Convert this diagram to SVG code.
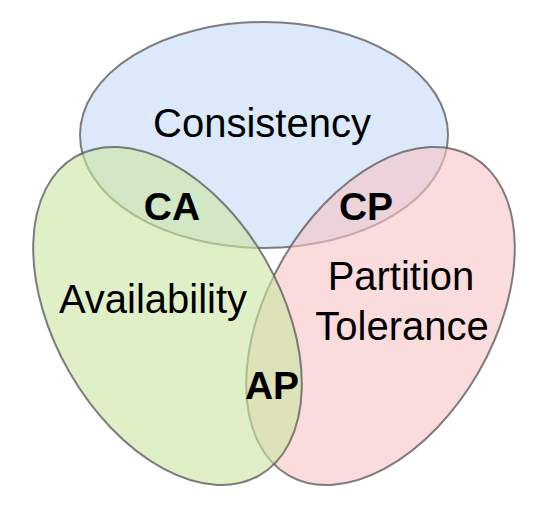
<svg xmlns="http://www.w3.org/2000/svg" width="548" height="506" viewBox="0 0 548 506">
  <style>
    .set { stroke: #5f5f5f; stroke-opacity: 0.8; stroke-width: 2; fill-opacity: 0.6; }
    .lbl { font-family: "Liberation Sans", Arial, Helvetica, sans-serif; fill: #000; text-anchor: middle; }
    .big { font-size: 40px; }
    .bold { font-size: 39px; font-weight: bold; }
  </style>
  <rect x="0" y="0" width="548" height="506" fill="#ffffff"/>
  <g id="consistency">
    <ellipse class="set" cx="264" cy="135" rx="184" ry="113" fill="#c3daf7"/>
    <text class="lbl big" x="262" y="137" font-size="41">Consistency</text>
  </g>
  <g id="partition-tolerance">
    <ellipse class="set" cx="0" cy="0" rx="184" ry="113" fill="#f7c5c5" transform="translate(380.5 316) rotate(-60)"/>
    <text class="lbl big" x="401" y="290">Partition</text>
    <text class="lbl big" x="402" y="340">Tolerance</text>
  </g>
  <g id="availability">
    <ellipse class="set" cx="0" cy="0" rx="184" ry="113" fill="#cbe6a0" transform="translate(167.5 316) rotate(60)"/>
    <text class="lbl big" x="153" y="313" font-size="39">Availability</text>
  </g>
  <g id="connectors"></g>
  <g id="ca">
    <text class="lbl bold" x="172" y="220">CA</text>
  </g>
  <g id="cp">
    <text class="lbl bold" x="366" y="220">CP</text>
  </g>
  <g id="ap">
    <text class="lbl bold" x="272" y="399">AP</text>
  </g>
</svg>
